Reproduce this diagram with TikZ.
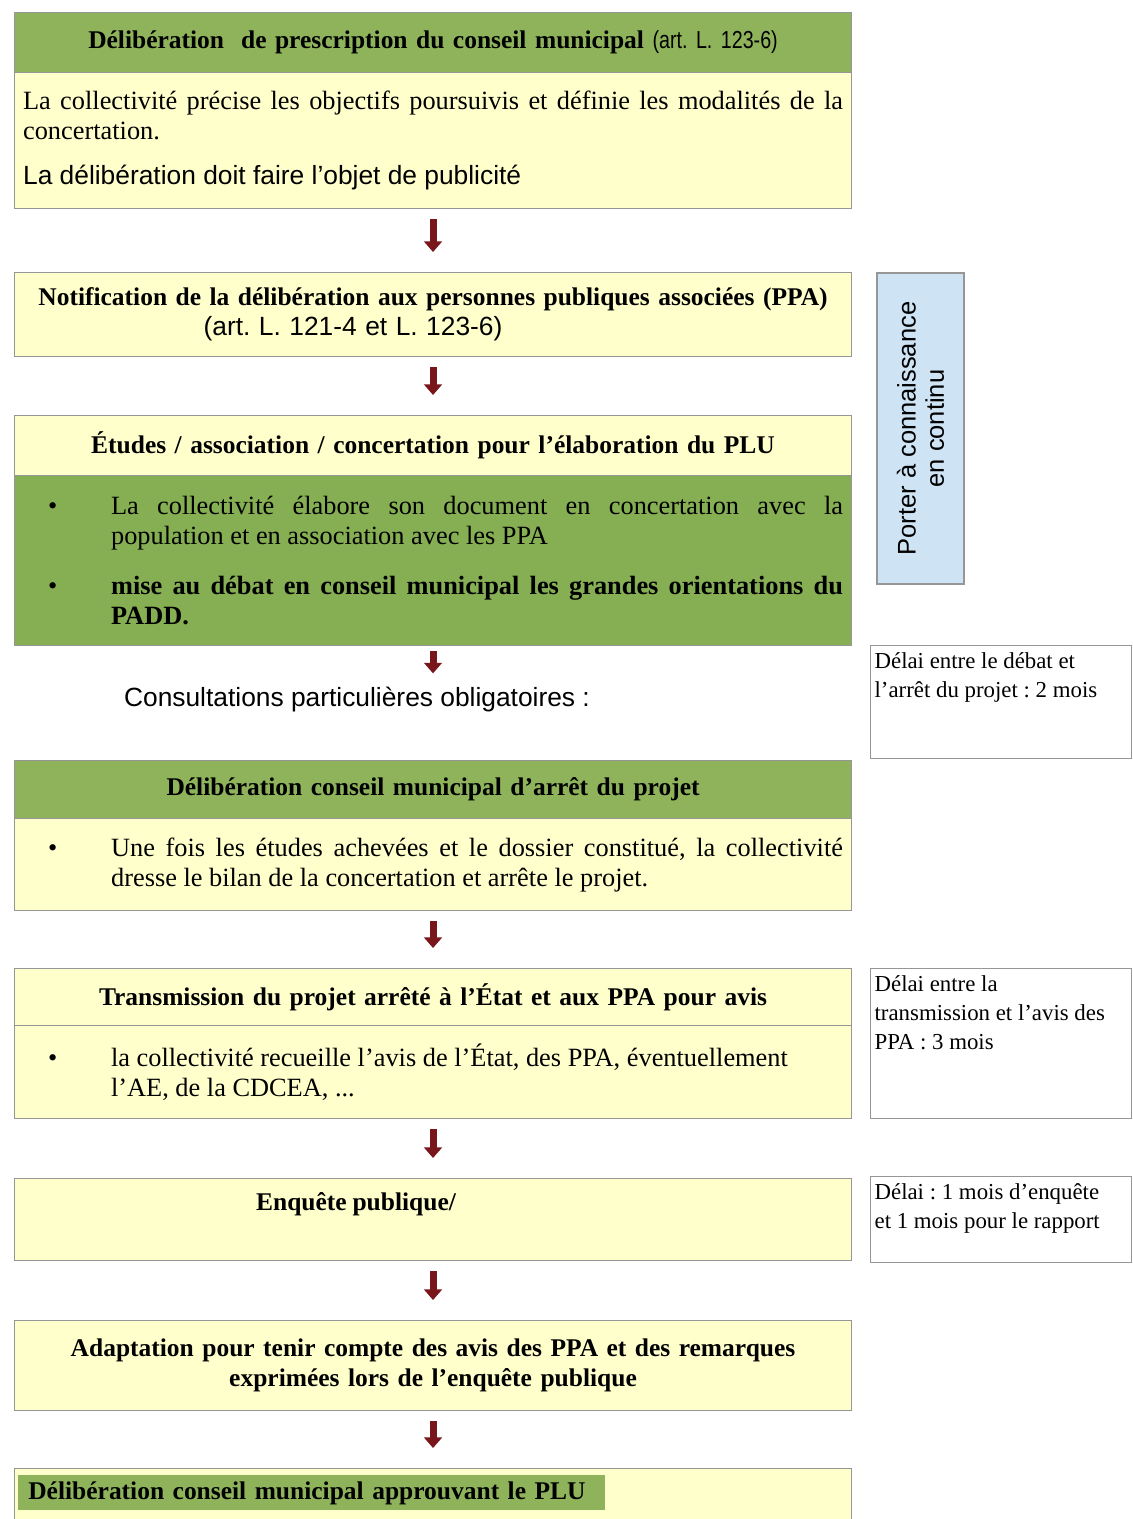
\documentclass[tikz,border=0pt]{standalone}
\usepackage{fontspec}
\setmainfont{Liberation Serif}
\setsansfont{Liberation Sans}
\newfontfamily\narrowsf[FakeStretch=0.8]{Liberation Sans}
\usetikzlibrary{arrows.meta}
\frenchspacing
\hyphenpenalty=10000
\exhyphenpenalty=10000

\definecolor{vert}{RGB}{142,179,91}
\definecolor{vertf}{RGB}{134,174,82}
\definecolor{pale}{RGB}{255,255,204}
\definecolor{bleu}{RGB}{206,227,244}
\definecolor{bord}{RGB}{150,150,150}
\definecolor{flred}{RGB}{120,22,28}

\newcommand{\puce}[1]{\noindent\hangindent=1.76cm\hangafter=1\hspace*{0.5cm}\makebox[1.26cm][l]{\textbullet}#1\par}

\begin{document}
\begin{tikzpicture}[x=0.02cm, y=-0.02cm,
    bloc/.style={draw=bord, line width=0.7pt, anchor=north west, inner xsep=0.17cm, inner ysep=0pt, minimum width=16.74cm, text width=16.4cm},
    titre/.style={bloc, inner xsep=0.05cm, text width=16.64cm, align=center, font=\fontsize{14.5}{17}\selectfont\bfseries},
    corps/.style={bloc, align=justify, font=\fontsize{15}{17}\selectfont},
    cote/.style={draw=bord, line width=0.7pt, fill=white, anchor=north west, inner xsep=0.08cm, inner ysep=0.14cm, font=\fontsize{13}{16.5}\selectfont},
    fleche/.style={draw=flred, line width=4pt, -{Triangle[width=10pt,length=6pt]}, shorten <=0.2cm, shorten >=0.4cm}]
    \path[use as bounding box, fill=white] (0,0) rectangle (1133,1519);

    \node[titre, fill=vert, minimum height=1.2cm] (t1) at (14,12) {Délibération\ \ de prescription du conseil municipal {\narrowsf\mdseries\fontsize{14}{17}\selectfont (art. L. 123-6)}};
    \node[corps, fill=pale, minimum height=2.72cm] (c1) at (14,72) {La collectivité précise les objectifs poursuivis et définie les modalités de la concertation.\par\vspace{0.3cm}{\sffamily\fontsize{15}{17}\selectfont La délibération doit faire l'objet de publicité}};

    \node[titre, fill=pale, minimum height=1.68cm] (t2) at (14,272) {Notification de la délibération aux personnes publiques associées (PPA)\\\hspace*{-3.2cm}{\sffamily\mdseries\fontsize{15}{17}\selectfont (art. L. 121-4 et L. 123-6)}};

    \node[titre, fill=pale, minimum height=1.2cm] (t3) at (14,415) {Études / association / concertation pour l'élaboration du PLU};
    \node[corps, fill=vertf, minimum height=3.4cm] (c3) at (14,475) {\puce{La collectivité élabore son document en concertation avec la population et en association avec les PPA}\vspace{0.4cm}\puce{\textbf{mise au débat en conseil municipal les grandes orientations du PADD.}}};

    \node[draw=bord, line width=0.7pt, fill=bleu, rotate=90, minimum width=6.22cm, minimum height=1.74cm, align=center, font=\sffamily\fontsize{14.5}{16}\selectfont] (pac) at (920.5,428.5) {Porter à connaissance\\en continu};

    \node[font=\sffamily\fontsize{15}{17}\selectfont] (cons) at (357,700) {Consultations particulières obligatoires :};
    \node[cote] (d1) at (870,645) {\parbox[c][1.98cm][t]{5.06cm}{Délai entre le débat et\\l'arrêt du projet : 2 mois}};

    \node[titre, fill=vert, minimum height=1.16cm] (t4) at (14,760) {Délibération conseil municipal d'arrêt du projet};
    \node[corps, fill=pale, minimum height=1.84cm] (c4) at (14,818) {\puce{Une fois les études achevées et le dossier constitué, la collectivité dresse le bilan de la concertation et arrête le projet.}};

    \node[titre, fill=pale, minimum height=1.14cm] (t5) at (14,968) {Transmission du projet arrêté à l'État et aux PPA pour avis};
    \node[corps, fill=pale, minimum height=1.86cm] (c5) at (14,1025) {\puce{la collectivité recueille l'avis de l'État, des PPA, éventuellement\hfill\break l'AE, de la CDCEA, ...}};
    \node[cote] (d2) at (870,968) {\parbox[c][2.72cm][t]{5.06cm}{Délai entre la\\transmission et l'avis des\\PPA : 3 mois}};

    \node[bloc, fill=pale, minimum height=1.64cm] (e6) at (14,1178) {\parbox[c][1.1cm][t]{16.4cm}{\centering\fontsize{14.5}{17}\selectfont\bfseries Enquête publique/\hspace*{3.08cm}}};
    \node[cote] (d3) at (870,1176) {\parbox[c][1.44cm][t]{5.06cm}{Délai : 1 mois d'enquête\\et 1 mois pour le rapport}};

    \node[titre, fill=pale, minimum height=1.8cm] (t7) at (14,1320) {Adaptation pour tenir compte des avis des PPA et des remarques\\exprimées lors de l'enquête publique};

    \node[bloc, fill=pale, minimum height=1.3cm] (t8) at (14,1468) {};
    \node[anchor=north west, fill=vert, inner xsep=0.2cm, inner ysep=0pt, text width=11.34cm, minimum height=0.7cm, font=\fontsize{14.5}{17}\selectfont\bfseries] (h8) at (18,1475) {Délibération conseil municipal approuvant le PLU};

    \draw[fleche] (c1.south) -- (t2.north);
    \draw[fleche] (t2.south) -- (t3.north);
    \draw[fleche, shorten <=0.1cm, shorten >=0.16cm] (c3.south) -- (c3.south |- cons.north);
    \draw[fleche] (c4.south) -- (t5.north);
    \draw[fleche] (c5.south) -- (e6.north);
    \draw[fleche] (e6.south) -- (t7.north);
    \draw[fleche] (t7.south) -- (t8.north);
\end{tikzpicture}
\end{document}
